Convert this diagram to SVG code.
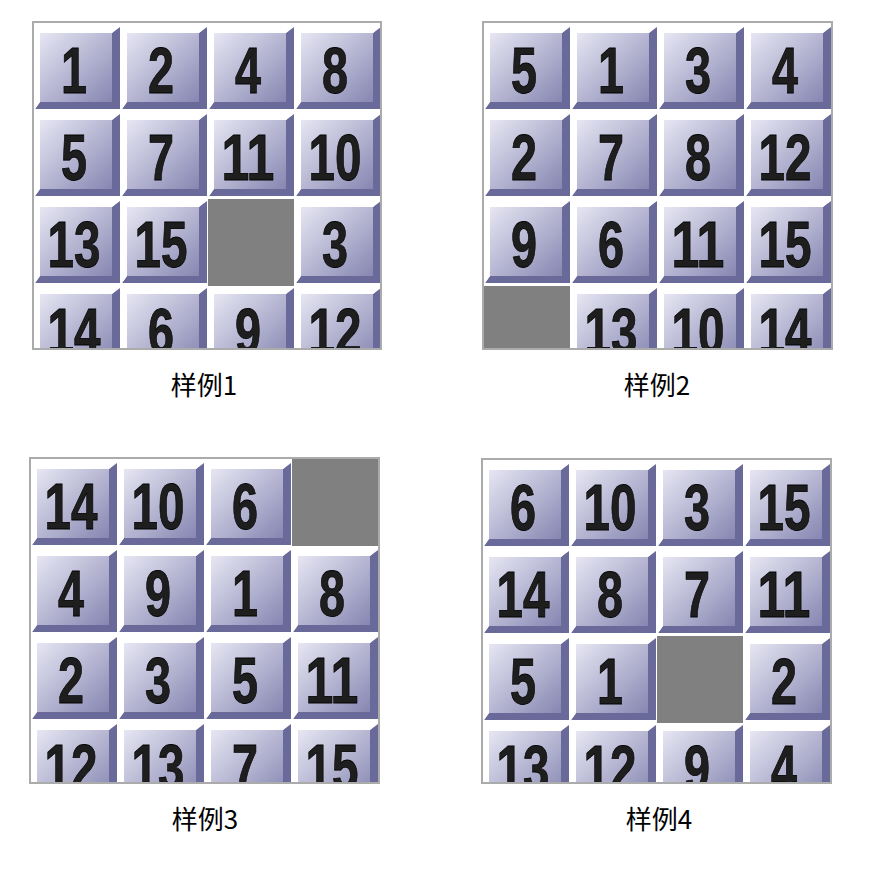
<svg xmlns="http://www.w3.org/2000/svg" xmlns:xlink="http://www.w3.org/1999/xlink" width="873" height="872" viewBox="0 0 873 872">
<style>
.num{font-family:"Liberation Sans","Arial",sans-serif;font-weight:bold;font-size:64px;fill:#1e1e1e;stroke:#000;stroke-width:0.8;text-anchor:middle}
.lbl{font-family:"Noto Sans CJK SC","Noto Sans",sans-serif;font-size:26px;fill:#000;text-anchor:middle}
.frame{fill:none;stroke:#ababab;stroke-width:2}
.hole{fill:#808080}
</style>
<defs>
<linearGradient id="face" x1="0" y1="0" x2="1" y2="1">
<stop offset="0" stop-color="#e6e6f3"/>
<stop offset="0.55" stop-color="#b2b2d0"/>
<stop offset="1" stop-color="#8686b2"/>
</linearGradient>
<g id="tile">
<polygon fill="#6a6a9a" points="86,3 86,85 1,85 6,78 78,78 78,9"/>
<polygon fill="#ffffff" points="1,1 86,1 78,9 6,9 6,78 1,85"/>
<rect x="6" y="9" width="72" height="69" fill="url(#face)"/>
</g>
<clipPath id="c1"><rect x="33" y="22" width="348" height="327"/></clipPath>
<clipPath id="c2"><rect x="483" y="22" width="349" height="327"/></clipPath>
<clipPath id="c3"><rect x="30" y="458" width="349" height="325"/></clipPath>
<clipPath id="c4"><rect x="482" y="459" width="349" height="324"/></clipPath>
</defs>
<rect width="873" height="872" fill="#fff"/>

<g id="panel1" clip-path="url(#c1)">
<g transform="translate(34,24)">
<g id="p1-1"><use xlink:href="#tile" x="0" y="0"/><text class="num" x="40" y="69" textLength="26" lengthAdjust="spacingAndGlyphs">1</text></g>
<g id="p1-2"><use xlink:href="#tile" x="87" y="0"/><text class="num" x="127" y="69" textLength="26" lengthAdjust="spacingAndGlyphs">2</text></g>
<g id="p1-4"><use xlink:href="#tile" x="174" y="0"/><text class="num" x="214" y="69" textLength="26" lengthAdjust="spacingAndGlyphs">4</text></g>
<g id="p1-8"><use xlink:href="#tile" x="261" y="0"/><text class="num" x="301" y="69" textLength="26" lengthAdjust="spacingAndGlyphs">8</text></g>
<g id="p1-5"><use xlink:href="#tile" x="0" y="87"/><text class="num" x="40" y="156" textLength="26" lengthAdjust="spacingAndGlyphs">5</text></g>
<g id="p1-7"><use xlink:href="#tile" x="87" y="87"/><text class="num" x="127" y="156" textLength="26" lengthAdjust="spacingAndGlyphs">7</text></g>
<g id="p1-11"><use xlink:href="#tile" x="174" y="87"/><text class="num" x="214" y="156" textLength="53" lengthAdjust="spacingAndGlyphs">11</text></g>
<g id="p1-10"><use xlink:href="#tile" x="261" y="87"/><text class="num" x="301" y="156" textLength="53" lengthAdjust="spacingAndGlyphs">10</text></g>
<g id="p1-13"><use xlink:href="#tile" x="0" y="174"/><text class="num" x="40" y="243" textLength="53" lengthAdjust="spacingAndGlyphs">13</text></g>
<g id="p1-15"><use xlink:href="#tile" x="87" y="174"/><text class="num" x="127" y="243" textLength="53" lengthAdjust="spacingAndGlyphs">15</text></g>
<g id="p1-empty"><rect class="hole" x="174" y="175" width="86" height="87"/></g>
<g id="p1-3"><use xlink:href="#tile" x="261" y="174"/><text class="num" x="301" y="243" textLength="26" lengthAdjust="spacingAndGlyphs">3</text></g>
<g id="p1-14"><use xlink:href="#tile" x="0" y="261"/><text class="num" x="40" y="330" textLength="53" lengthAdjust="spacingAndGlyphs">14</text></g>
<g id="p1-6"><use xlink:href="#tile" x="87" y="261"/><text class="num" x="127" y="330" textLength="26" lengthAdjust="spacingAndGlyphs">6</text></g>
<g id="p1-9"><use xlink:href="#tile" x="174" y="261"/><text class="num" x="214" y="330" textLength="26" lengthAdjust="spacingAndGlyphs">9</text></g>
<g id="p1-12"><use xlink:href="#tile" x="261" y="261"/><text class="num" x="301" y="330" textLength="53" lengthAdjust="spacingAndGlyphs">12</text></g>
</g>
</g>
<rect class="frame" x="33" y="22" width="348" height="327"/>

<g id="panel2" clip-path="url(#c2)">
<g transform="translate(484,24)">
<g id="p2-5"><use xlink:href="#tile" x="0" y="0"/><text class="num" x="40" y="69" textLength="26" lengthAdjust="spacingAndGlyphs">5</text></g>
<g id="p2-1"><use xlink:href="#tile" x="87" y="0"/><text class="num" x="127" y="69" textLength="26" lengthAdjust="spacingAndGlyphs">1</text></g>
<g id="p2-3"><use xlink:href="#tile" x="174" y="0"/><text class="num" x="214" y="69" textLength="26" lengthAdjust="spacingAndGlyphs">3</text></g>
<g id="p2-4"><use xlink:href="#tile" x="261" y="0"/><text class="num" x="301" y="69" textLength="26" lengthAdjust="spacingAndGlyphs">4</text></g>
<g id="p2-2"><use xlink:href="#tile" x="0" y="87"/><text class="num" x="40" y="156" textLength="26" lengthAdjust="spacingAndGlyphs">2</text></g>
<g id="p2-7"><use xlink:href="#tile" x="87" y="87"/><text class="num" x="127" y="156" textLength="26" lengthAdjust="spacingAndGlyphs">7</text></g>
<g id="p2-8"><use xlink:href="#tile" x="174" y="87"/><text class="num" x="214" y="156" textLength="26" lengthAdjust="spacingAndGlyphs">8</text></g>
<g id="p2-12"><use xlink:href="#tile" x="261" y="87"/><text class="num" x="301" y="156" textLength="53" lengthAdjust="spacingAndGlyphs">12</text></g>
<g id="p2-9"><use xlink:href="#tile" x="0" y="174"/><text class="num" x="40" y="243" textLength="26" lengthAdjust="spacingAndGlyphs">9</text></g>
<g id="p2-6"><use xlink:href="#tile" x="87" y="174"/><text class="num" x="127" y="243" textLength="26" lengthAdjust="spacingAndGlyphs">6</text></g>
<g id="p2-11"><use xlink:href="#tile" x="174" y="174"/><text class="num" x="214" y="243" textLength="53" lengthAdjust="spacingAndGlyphs">11</text></g>
<g id="p2-15"><use xlink:href="#tile" x="261" y="174"/><text class="num" x="301" y="243" textLength="53" lengthAdjust="spacingAndGlyphs">15</text></g>
<g id="p2-empty"><rect class="hole" x="0" y="262" width="86" height="87"/></g>
<g id="p2-13"><use xlink:href="#tile" x="87" y="261"/><text class="num" x="127" y="330" textLength="53" lengthAdjust="spacingAndGlyphs">13</text></g>
<g id="p2-10"><use xlink:href="#tile" x="174" y="261"/><text class="num" x="214" y="330" textLength="53" lengthAdjust="spacingAndGlyphs">10</text></g>
<g id="p2-14"><use xlink:href="#tile" x="261" y="261"/><text class="num" x="301" y="330" textLength="53" lengthAdjust="spacingAndGlyphs">14</text></g>
</g>
</g>
<rect class="frame" x="483" y="22" width="349" height="327"/>

<g id="panel3" clip-path="url(#c3)">
<g transform="translate(31,460)">
<g id="p3-14"><use xlink:href="#tile" x="0" y="0"/><text class="num" x="40" y="69" textLength="53" lengthAdjust="spacingAndGlyphs">14</text></g>
<g id="p3-10"><use xlink:href="#tile" x="87" y="0"/><text class="num" x="127" y="69" textLength="53" lengthAdjust="spacingAndGlyphs">10</text></g>
<g id="p3-6"><use xlink:href="#tile" x="174" y="0"/><text class="num" x="214" y="69" textLength="26" lengthAdjust="spacingAndGlyphs">6</text></g>
<g id="p3-empty"><rect class="hole" x="261" y="-2" width="88" height="88"/></g>
<g id="p3-4"><use xlink:href="#tile" x="0" y="87"/><text class="num" x="40" y="156" textLength="26" lengthAdjust="spacingAndGlyphs">4</text></g>
<g id="p3-9"><use xlink:href="#tile" x="87" y="87"/><text class="num" x="127" y="156" textLength="26" lengthAdjust="spacingAndGlyphs">9</text></g>
<g id="p3-1"><use xlink:href="#tile" x="174" y="87"/><text class="num" x="214" y="156" textLength="26" lengthAdjust="spacingAndGlyphs">1</text></g>
<g id="p3-8"><use xlink:href="#tile" x="261" y="87"/><text class="num" x="301" y="156" textLength="26" lengthAdjust="spacingAndGlyphs">8</text></g>
<g id="p3-2"><use xlink:href="#tile" x="0" y="174"/><text class="num" x="40" y="243" textLength="26" lengthAdjust="spacingAndGlyphs">2</text></g>
<g id="p3-3"><use xlink:href="#tile" x="87" y="174"/><text class="num" x="127" y="243" textLength="26" lengthAdjust="spacingAndGlyphs">3</text></g>
<g id="p3-5"><use xlink:href="#tile" x="174" y="174"/><text class="num" x="214" y="243" textLength="26" lengthAdjust="spacingAndGlyphs">5</text></g>
<g id="p3-11"><use xlink:href="#tile" x="261" y="174"/><text class="num" x="301" y="243" textLength="53" lengthAdjust="spacingAndGlyphs">11</text></g>
<g id="p3-12"><use xlink:href="#tile" x="0" y="261"/><text class="num" x="40" y="330" textLength="53" lengthAdjust="spacingAndGlyphs">12</text></g>
<g id="p3-13"><use xlink:href="#tile" x="87" y="261"/><text class="num" x="127" y="330" textLength="53" lengthAdjust="spacingAndGlyphs">13</text></g>
<g id="p3-7"><use xlink:href="#tile" x="174" y="261"/><text class="num" x="214" y="330" textLength="26" lengthAdjust="spacingAndGlyphs">7</text></g>
<g id="p3-15"><use xlink:href="#tile" x="261" y="261"/><text class="num" x="301" y="330" textLength="53" lengthAdjust="spacingAndGlyphs">15</text></g>
</g>
</g>
<rect class="frame" x="30" y="458" width="349" height="325"/>

<g id="panel4" clip-path="url(#c4)">
<g transform="translate(483,461)">
<g id="p4-6"><use xlink:href="#tile" x="0" y="0"/><text class="num" x="40" y="69" textLength="26" lengthAdjust="spacingAndGlyphs">6</text></g>
<g id="p4-10"><use xlink:href="#tile" x="87" y="0"/><text class="num" x="127" y="69" textLength="53" lengthAdjust="spacingAndGlyphs">10</text></g>
<g id="p4-3"><use xlink:href="#tile" x="174" y="0"/><text class="num" x="214" y="69" textLength="26" lengthAdjust="spacingAndGlyphs">3</text></g>
<g id="p4-15"><use xlink:href="#tile" x="261" y="0"/><text class="num" x="301" y="69" textLength="53" lengthAdjust="spacingAndGlyphs">15</text></g>
<g id="p4-14"><use xlink:href="#tile" x="0" y="87"/><text class="num" x="40" y="156" textLength="53" lengthAdjust="spacingAndGlyphs">14</text></g>
<g id="p4-8"><use xlink:href="#tile" x="87" y="87"/><text class="num" x="127" y="156" textLength="26" lengthAdjust="spacingAndGlyphs">8</text></g>
<g id="p4-7"><use xlink:href="#tile" x="174" y="87"/><text class="num" x="214" y="156" textLength="26" lengthAdjust="spacingAndGlyphs">7</text></g>
<g id="p4-11"><use xlink:href="#tile" x="261" y="87"/><text class="num" x="301" y="156" textLength="53" lengthAdjust="spacingAndGlyphs">11</text></g>
<g id="p4-5"><use xlink:href="#tile" x="0" y="174"/><text class="num" x="40" y="243" textLength="26" lengthAdjust="spacingAndGlyphs">5</text></g>
<g id="p4-1"><use xlink:href="#tile" x="87" y="174"/><text class="num" x="127" y="243" textLength="26" lengthAdjust="spacingAndGlyphs">1</text></g>
<g id="p4-empty"><rect class="hole" x="174" y="175" width="86" height="87"/></g>
<g id="p4-2"><use xlink:href="#tile" x="261" y="174"/><text class="num" x="301" y="243" textLength="26" lengthAdjust="spacingAndGlyphs">2</text></g>
<g id="p4-13"><use xlink:href="#tile" x="0" y="261"/><text class="num" x="40" y="330" textLength="53" lengthAdjust="spacingAndGlyphs">13</text></g>
<g id="p4-12"><use xlink:href="#tile" x="87" y="261"/><text class="num" x="127" y="330" textLength="53" lengthAdjust="spacingAndGlyphs">12</text></g>
<g id="p4-9"><use xlink:href="#tile" x="174" y="261"/><text class="num" x="214" y="330" textLength="26" lengthAdjust="spacingAndGlyphs">9</text></g>
<g id="p4-4"><use xlink:href="#tile" x="261" y="261"/><text class="num" x="301" y="330" textLength="26" lengthAdjust="spacingAndGlyphs">4</text></g>
</g>
</g>
<rect class="frame" x="482" y="459" width="349" height="324"/>

<g id="labels">
<text class="lbl" x="204" y="395">样例1</text>
<text class="lbl" x="657" y="395">样例2</text>
<text class="lbl" x="205" y="829">样例3</text>
<text class="lbl" x="659" y="829">样例4</text>
</g>
</svg>
